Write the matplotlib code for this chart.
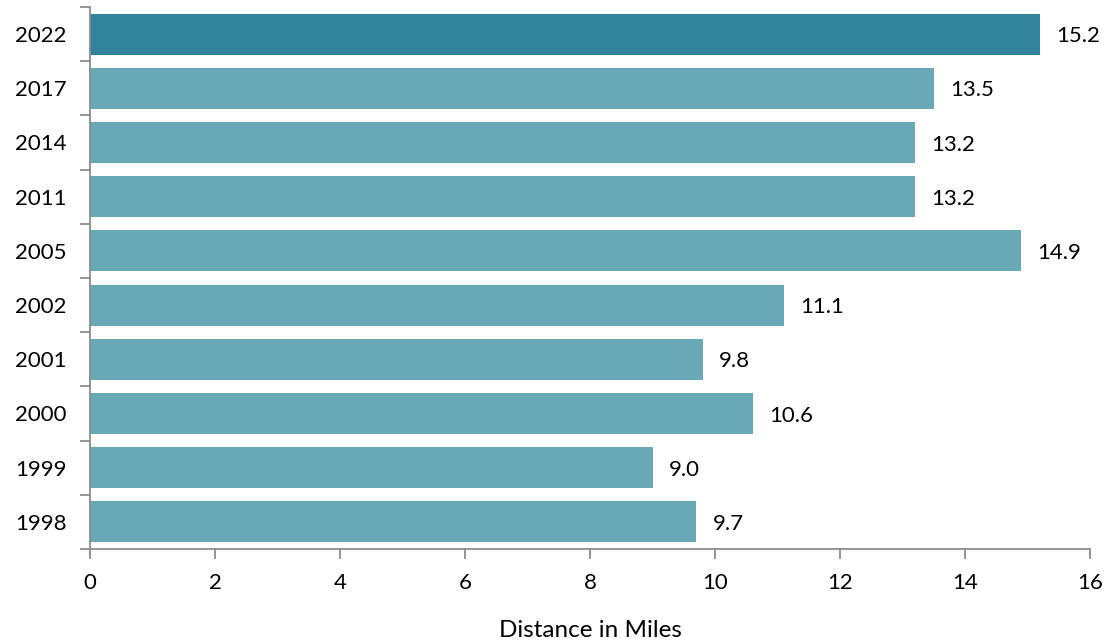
import matplotlib
matplotlib.use("Agg")
import matplotlib.pyplot as plt
import numpy as np

years = ["2022", "2017", "2014", "2011", "2005", "2002", "2001", "2000", "1999", "1998"]
values = [15.2, 13.5, 13.2, 13.2, 14.9, 11.1, 9.8, 10.6, 9.0, 9.7]
highlight = "2022"

plt.rcParams['font.family'] = ['Lato', 'DejaVu Sans']

fig = plt.figure(figsize=(11.12, 6.4), dpi=100)
ax = fig.add_axes([90/1112, (640-549)/640, 1000/1112, 542/640])

dark = "#31849B"
light = "#69A8B7"
y = np.arange(len(years))
colors = [dark if yr == highlight else light for yr in years]
ax.barh(y, values, height=0.76, color=colors)
for yi, v in zip(y, values):
    ax.text(v + 0.26, yi + 0.04, f"{v:.1f}", va="center", ha="left", fontsize=16, color="black")

ax.set_ylim(len(years) - 0.5, -0.5)
ax.set_xlim(0, 16)
ax.set_xticks(np.arange(0, 17, 2))
ax.set_yticks(y)
ax.set_yticklabels(years)
ax.set_yticks(np.arange(-0.5, len(years), 1), minor=True)
ax.tick_params(axis="y", which="major", length=0, pad=17, labelsize=16)
ax.tick_params(axis="y", which="minor", length=7, width=1.3, color="#8c8c8c")
ax.tick_params(axis="x", which="major", length=7, width=1.3, color="#8c8c8c", labelsize=16, pad=10)

for s in ["top", "right"]:
    ax.spines[s].set_visible(False)
for s in ["left", "bottom"]:
    ax.spines[s].set_color("#8c8c8c")
    ax.spines[s].set_linewidth(1.3)

ax.set_xlabel("Distance in Miles", fontsize=17.5, labelpad=20)

fig.savefig("out.png", dpi=100)
